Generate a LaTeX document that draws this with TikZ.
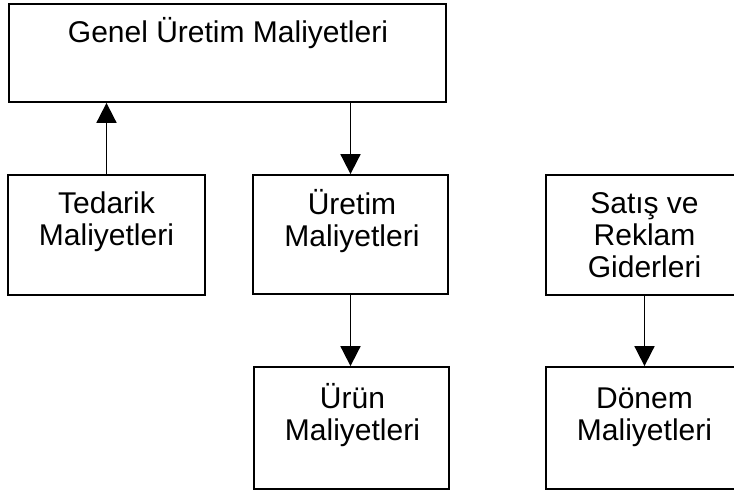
\documentclass[tikz,border=0pt]{standalone}
\usepackage{fontspec}
\setmainfont{Liberation Sans}
\usetikzlibrary{arrows.meta}
\begin{document}
\begin{tikzpicture}[x=1pt,y=-1pt,
  box/.style={draw, line width=1.8pt, rectangle, inner sep=0pt},
  lbl/.style={font=\fontsize{30}{32}\selectfont, align=center, anchor=base, inner sep=0pt},
  arr/.style={line width=1.8pt, -{Triangle[length=20pt,width=20pt]}}]
  \useasboundingbox (0,0) rectangle (734,490);
  \clip (0,0) rectangle (734,490);

  % boxes
  \node[box, minimum width=437pt, minimum height=98pt]  (gen) at (227.5,53) {};
  \node[box, minimum width=197pt, minimum height=120pt] (ted) at (106.5,235) {};
  \node[box, minimum width=195pt, minimum height=119pt] (ure) at (350.5,234.5) {};
  \node[box, minimum width=197pt, minimum height=120pt] (sat) at (644.5,235) {};
  \node[box, minimum width=195pt, minimum height=122pt] (urn) at (351.5,428) {};
  \node[box, minimum width=197pt, minimum height=122pt] (don) at (644.5,428) {};

  % labels (anchored on the baseline of the last line)
  \node[lbl] (genT) at (228,42) {Genel Üretim Maliyetleri};
  \node[lbl] (tedT) at (106.5,245.5) {Tedarik\\Maliyetleri};
  \node[lbl] (ureT) at (352,246.5) {Üretim\\Maliyetleri};
  \node[lbl] (satT) at (644.5,277) {Satış ve\\Reklam\\Giderleri};
  \node[lbl] (urnT) at (352.5,440) {Ürün\\Maliyetleri};
  \node[lbl] (donT) at (644.5,440) {Dönem\\Maliyetleri};

  % connectors
  \draw[arr] (ted.north) -- (ted.north |- gen.south);
  \draw[arr] (ure.north |- gen.south) -- (ure.north);
  \draw[arr] (ure.south) -- (ure.south |- urn.north);
  \draw[arr] (sat.south) -- (don.north);
\end{tikzpicture}
\end{document}
